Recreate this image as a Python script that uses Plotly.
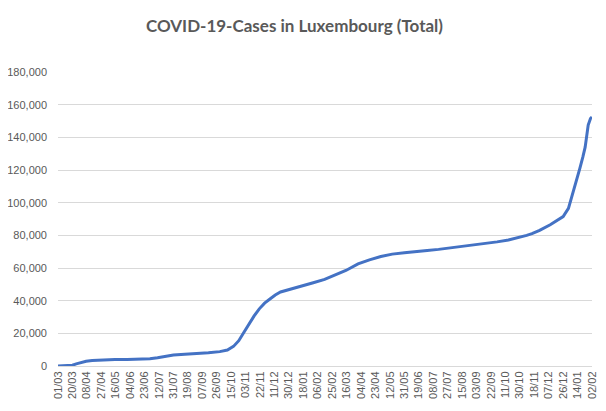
import pandas as pd
import plotly.graph_objects as go

# Cumulative COVID-19 cases in Luxembourg
dates = [
    "2020-03-01", "2020-03-10", "2020-03-15", "2020-03-20", "2020-03-25", "2020-03-31",
    "2020-04-07", "2020-04-15", "2020-04-30", "2020-05-15", "2020-05-31", "2020-06-15",
    "2020-06-30", "2020-07-10", "2020-07-20", "2020-07-31", "2020-08-15", "2020-08-31",
    "2020-09-15", "2020-09-30", "2020-10-10", "2020-10-18", "2020-10-25", "2020-10-31",
    "2020-11-07", "2020-11-14", "2020-11-21", "2020-11-28", "2020-12-05", "2020-12-12",
    "2020-12-19", "2020-12-31", "2021-01-15", "2021-01-31", "2021-02-15", "2021-02-28",
    "2021-03-15", "2021-03-31", "2021-04-15", "2021-04-30", "2021-05-15", "2021-05-31",
    "2021-06-15", "2021-06-30", "2021-07-15", "2021-07-31", "2021-08-15", "2021-08-31",
    "2021-09-15", "2021-09-30", "2021-10-15", "2021-10-31", "2021-11-08", "2021-11-15",
    "2021-11-25", "2021-12-09", "2021-12-20", "2021-12-26", "2022-01-02", "2022-01-08",
    "2022-01-12", "2022-01-17", "2022-01-21", "2022-01-24", "2022-01-28", "2022-01-31",
    "2022-02-02",
]
cases = [
    0, 5, 80, 450, 1300, 2200,
    2900, 3300, 3800, 3950, 4020, 4100,
    4400, 5000, 5900, 6700, 7200, 7500,
    8100, 8800, 9800, 12000, 15500, 20000,
    25500, 30500, 35000, 38500, 41000, 43500,
    45300, 47000, 49000, 51000, 53000, 55500,
    58500, 62500, 65000, 67000, 68500, 69300,
    69800, 70700, 71400, 72300, 73200, 74100,
    75000, 76000, 77100, 78800, 80000, 81000,
    83000, 86500, 89500, 91500, 96500, 105800,
    112000, 121000, 128000, 134000, 147500, 151500,
    152500,
]

tick_labels = [
    "01/03", "20/03", "08/04", "27/04", "16/05", "04/06", "23/06", "12/07", "31/07",
    "19/08", "07/09", "26/09", "15/10", "03/11", "22/11", "11/12", "30/12", "18/01",
    "06/02", "25/02", "16/03", "04/04", "23/04", "12/05", "31/05", "19/06", "08/07",
    "27/07", "15/08", "03/09", "22/09", "11/10", "30/10", "18/11", "07/12", "26/12",
    "14/01", "02/02",
]
tick_dates = pd.date_range("2020-03-01", periods=len(tick_labels), freq="19D")

title_text = "COVID-19-Cases in Luxembourg (Total)"
grey = "#595959"

# the page body adds an 8 px offset; sizes below compensate for it
W, H = 590, 395

fig = go.Figure()
fig.add_trace(go.Scatter(
    x=pd.to_datetime(dates), y=cases, mode="lines",
    line=dict(color="#4472C4", width=3),
    hoverinfo="x+y", showlegend=False,
))

fig.update_layout(
    width=W, height=H,
    margin=dict(l=50, r=6, t=64, b=37),
    paper_bgcolor="white", plot_bgcolor="white",
    title=dict(
        text=title_text, x=(294.5 - 8) / W, xref="container", xanchor="center",
        y=1 - (25.7 - 8) / H, yref="container", yanchor="middle",
        font=dict(family="Lato", size=17, color=grey, weight="bold"),
    ),
    font=dict(family="Liberation Sans", size=11, color=grey),
)
fig.update_xaxes(
    type="date",
    range=[tick_dates[0], tick_dates[-1]],
    tickvals=tick_dates, ticktext=tick_labels,
    tickangle=-90, showgrid=False,
    showline=True, linecolor="#d9d9d9", linewidth=1,
    ticks="", automargin=False,
    tickfont=dict(family="Liberation Sans", size=11, color=grey),
)
fig.update_yaxes(
    range=[0, 180000], dtick=20000, tickformat=",",
    showgrid=True, gridcolor="#d9d9d9", gridwidth=1,
    zeroline=False, showline=False, ticks="",
    ticklabelstandoff=10, automargin=False,
    tickfont=dict(family="Liberation Sans", size=11, color=grey),
)

fig.write_html("out.html")
